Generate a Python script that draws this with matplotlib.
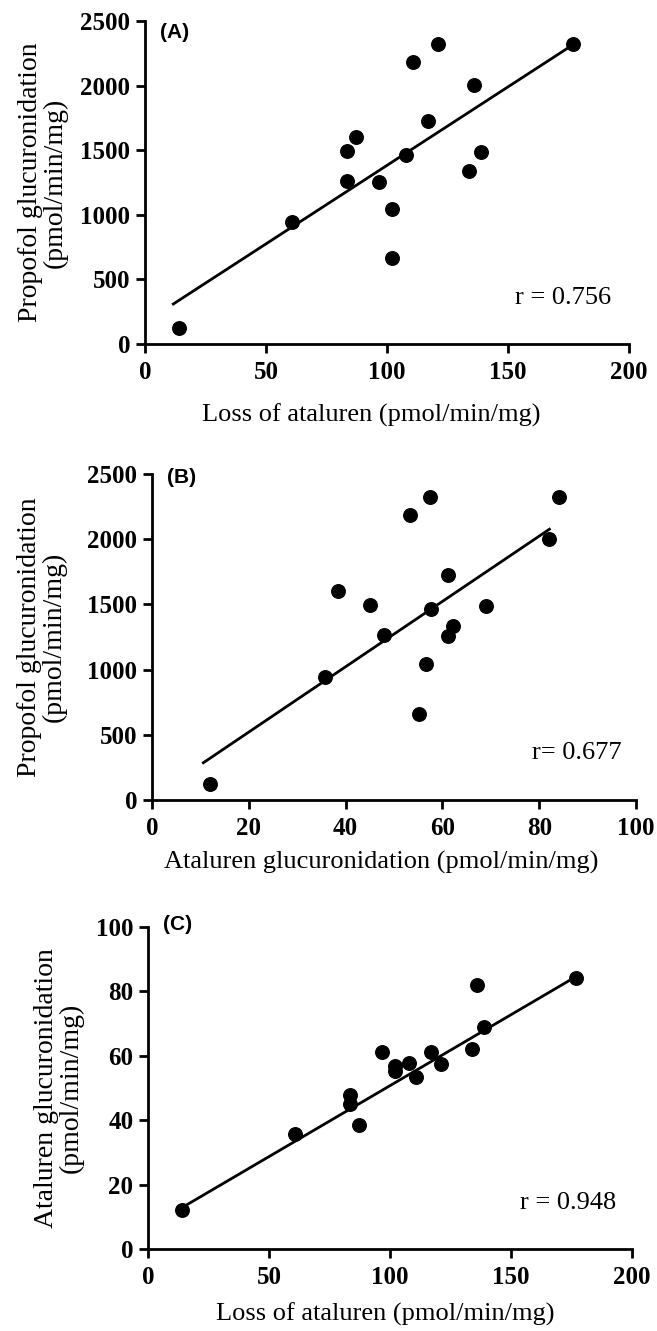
import numpy as np
import matplotlib.pyplot as plt

plt.rcParams['font.family'] = 'Liberation Serif'

# 16 samples
loss = [14.0, 60.6, 83.5, 83.4, 87.3, 96.7, 102.0, 102.1, 108.0, 110.9, 117.0, 121.0, 133.9, 135.8, 138.8, 176.9]
atag = [12.0, 35.8, 45.0, 47.9, 38.5, 61.2, 56.7, 55.2, 57.6, 53.4, 61.2, 57.4, 62.1, 82.1, 68.9, 84.0]
prop = [122, 947, 1496, 1262, 1605, 1254, 1045, 663, 1465, 2183, 1724, 2322, 1337, 2002, 1484, 2322]

# fitted lines as drawn in the figure: (slope, intercept), x from, x to
fit_slope = [12.15, 25.04, 0.4405]
fit_icpt = [168, 20.6, 6.67]
fit_x0 = [11.7, 10.6, 14.6]
fit_x1 = [175.6, 82.1, 174.4]

r_text = ["r = 0.756", "r= 0.677", "r = 0.948"]
tags = ["(A)", "(B)", "(C)"]
xlabels = ["Loss of ataluren (pmol/min/mg)", "Ataluren glucuronidation (pmol/min/mg)", "Loss of ataluren (pmol/min/mg)"]
ylabels = ["Propofol glucuronidation\n(pmol/min/mg)", "Propofol glucuronidation\n(pmol/min/mg)", "Ataluren glucuronidation\n(pmol/min/mg)"]

fig = plt.figure(figsize=(6.57, 13.31), dpi=100)

panels = [
    # x, y, xmax, xstep, ymax, ystep, axes rect, tag y, r pos, xlabel pos, ylabel x
    (loss, prop, 200, 50, 2500, 500, [0.2207, 0.7415, 0.7367, 0.2427], 0.963, (0.764, 0.142), (0.467, -0.222), -0.211),
    (atag, prop, 100, 20, 2500, 500, [0.2314, 0.3989, 0.7367, 0.2450], 0.99, (0.785, 0.144), (0.473, -0.19), -0.227),
    (loss, atag, 200, 50, 100, 20, [0.2253, 0.0616, 0.7367, 0.2420], 1.006, (0.769, 0.143), (0.49, -0.203), -0.184),
]

for i, (x, y, xmax, xstep, ymax, ystep, rect, tagy, rpos, xlpos, ylx) in enumerate(panels):
    ax = fig.add_axes(rect)
    ax.scatter(x, y, s=95, color='black', zorder=3, clip_on=False)
    xx = np.array([fit_x0[i], fit_x1[i]])
    ax.plot(xx, fit_slope[i]*xx + fit_icpt[i], color='black', lw=2)
    ax.set_xlim(0, xmax)
    ax.set_ylim(0, ymax)
    ax.set_xticks(np.arange(0, xmax+1, xstep))
    ax.set_yticks(np.arange(0, ymax+1, ystep))
    for s in ['top', 'right']:
        ax.spines[s].set_visible(False)
    for s in ['left', 'bottom']:
        ax.spines[s].set_linewidth(2)
    ax.tick_params(width=2, length=6.5, labelsize=18, pad=4)
    ax.tick_params(axis='x', pad=6)
    for lab in ax.get_xticklabels() + ax.get_yticklabels():
        lab.set_fontweight('bold')
    ax.text(xlpos[0], xlpos[1], xlabels[i], transform=ax.transAxes,
            ha='center', va='center', fontsize=19)
    ax.text(ylx, 0.5, ylabels[i], transform=ax.transAxes, rotation=90,
            ha='center', va='center', fontsize=20, multialignment='center', linespacing=1.0)
    ax.text(0.031, tagy, tags[i], transform=ax.transAxes, ha='left', va='center',
            fontsize=15, fontweight='bold', family='Liberation Sans')
    ax.text(rpos[0], rpos[1], r_text[i], transform=ax.transAxes, ha='left', va='center', fontsize=19)

fig.savefig('out.png', dpi=100)
